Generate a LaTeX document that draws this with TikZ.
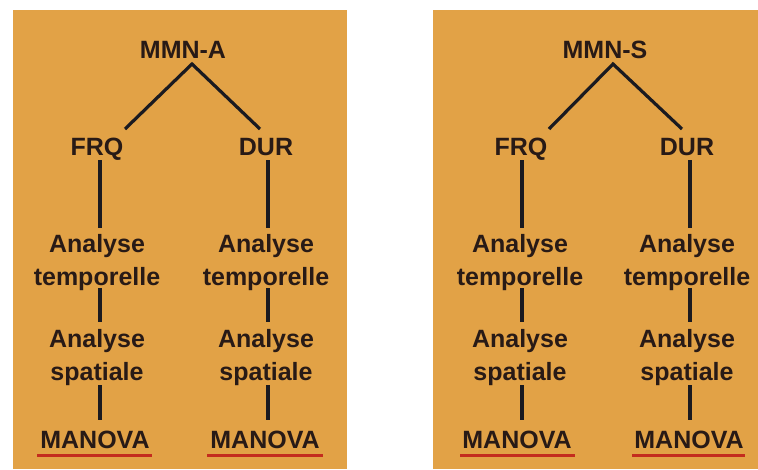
\documentclass[tikz,border=0pt]{standalone}
\usepackage{fontspec}
\setmainfont{Liberation Sans}
\begin{document}
\definecolor{panelbg}{RGB}{226,162,70}
\definecolor{inkdark}{RGB}{40,26,22}
\definecolor{linkdark}{RGB}{26,26,32}
\definecolor{ulred}{RGB}{196,44,30}
\begin{tikzpicture}[x=1pt,y=-1pt,
  panel/.style={fill=panelbg,draw=none},
  lbl/.style={inner sep=0pt,anchor=base,text=inkdark,font=\fontsize{25}{32.5}\selectfont\bfseries,align=center},
  link/.style={draw=linkdark,line width=3.2pt},
  uline/.style={draw=ulred,line width=3pt}]
\useasboundingbox (0,0) rectangle (758,469);
\fill[white] (0,0) rectangle (758,469);
% two coloured panels
\path[panel] (13,10) rectangle (347,469);
\path[panel] (433,10) rectangle (758,469);

% left tree (two-line labels sit on the baseline of their last line)
\node[lbl] (ra) at (183,58) {MMN-A};
\node[lbl] (fa) at (97,155) {FRQ};
\node[lbl] (da) at (266,155) {DUR};
\node[lbl] (tfa) at (97,285) {Analyse\\temporelle};
\node[lbl] (tda) at (266,285) {Analyse\\temporelle};
\node[lbl] (sfa) at (97,380) {Analyse\\spatiale};
\node[lbl] (sda) at (266,380) {Analyse\\spatiale};
\node[lbl] (mfa) at (95,448) {MANOVA};
\node[lbl] (mda) at (265,448) {MANOVA};
\coordinate (apa) at (192,64);
\draw[link] (125,129) -- (apa) -- (260,129);
\draw[link] (100,160) -- (100,228);
\draw[link] (268,160) -- (268,228);
\draw[link] (100,288) -- (100,322);
\draw[link] (268,288) -- (268,322);
\draw[link] (100,385) -- (100,420);
\draw[link] (268,385) -- (268,420);
\draw[uline] (37,455) -- (152,455);
\draw[uline] (207,455) -- (323,455);

% right tree
\node[lbl] (rs) at (605,58) {MMN-S};
\node[lbl] (fs) at (521,155) {FRQ};
\node[lbl] (ds) at (687,155) {DUR};
\node[lbl] (tfs) at (520,285) {Analyse\\temporelle};
\node[lbl] (tds) at (687,285) {Analyse\\temporelle};
\node[lbl] (sfs) at (520,380) {Analyse\\spatiale};
\node[lbl] (sds) at (687,380) {Analyse\\spatiale};
\node[lbl] (mfs) at (517,448) {MANOVA};
\node[lbl] (mds) at (689,448) {MANOVA};
\coordinate (aps) at (613,64);
\draw[link] (549,129) -- (aps) -- (682,129);
\draw[link] (522,160) -- (522,228);
\draw[link] (690,160) -- (690,228);
\draw[link] (522,288) -- (522,322);
\draw[link] (690,288) -- (690,322);
\draw[link] (522,385) -- (522,420);
\draw[link] (690,385) -- (690,420);
\draw[uline] (460,455) -- (575,455);
\draw[uline] (632,455) -- (745,455);
\end{tikzpicture}
\end{document}
